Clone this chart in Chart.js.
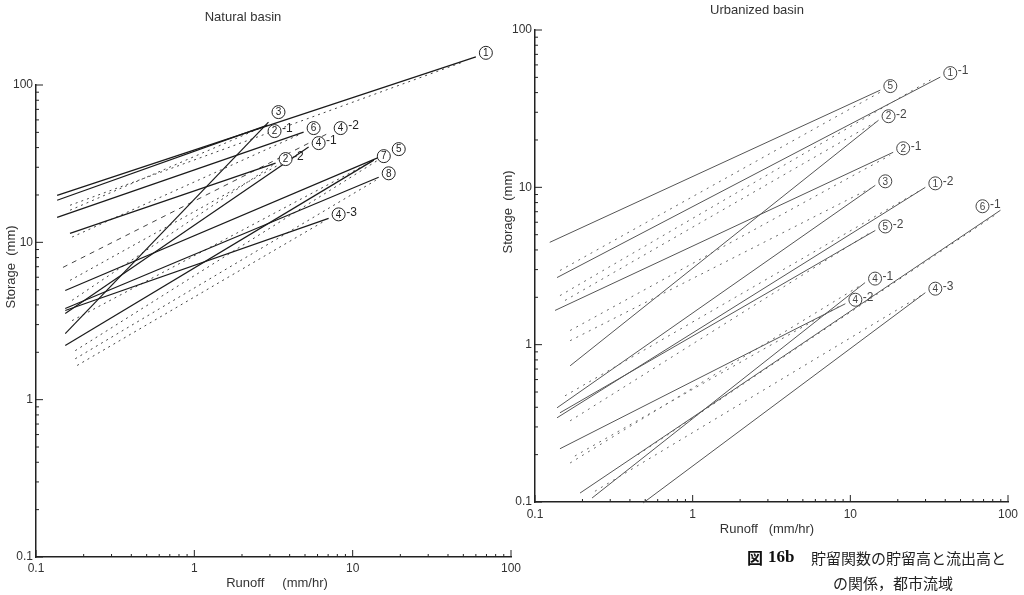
<!DOCTYPE html>
<html>
<head>
<meta charset="utf-8">
<script src="https://cdn.jsdelivr.net/npm/chart.js@4.4.0/dist/chart.umd.min.js"></script>
<style>
  body { margin: 0; background: #fff; width: 1024px; height: 595px; overflow: hidden; position: relative; }
  canvas { position: absolute; top: 0; }
  #natural { left: 0; }
  #urban { left: 495px; }
</style>
</head>
<body>
<canvas id="natural" width="530" height="595"></canvas>
<canvas id="urban" width="529" height="595"></canvas>
<script>
// axis ticks (both panels, log-log)
const tickValues = [0.1, 1, 10, 100];
const minorTicks = [0.2, 0.3, 0.4, 0.5, 0.6, 0.7, 0.8, 0.9, 2, 3, 4, 5, 6, 7, 8, 9, 20, 30, 40, 50, 60, 70, 80, 90];

// Natural basin - solid lines (runoff mm/hr, storage mm)
const natSolidTags = ['1', '2-1', '6', '2-2', '3', '4-1', '7', '5', '8', '4-3'];
const natSolidX0 = [0.136, 0.136, 0.136, 0.164, 0.153, 0.153, 0.153, 0.153, 0.153, 0.153];
const natSolidY0 = [19.9, 18.5, 14.4, 11.4, 2.63, 3.53, 2.21, 4.94, 3.80, 3.69];
const natSolidX1 = [60, 2.90, 4.90, 3.26, 2.94, 5.27, 13.6, 16.9, 14.6, 7.05];
const natSolidY1 = [151, 55.6, 50.2, 31.9, 58.1, 40.3, 33.3, 36.9, 25.9, 14.2];

// Natural basin - dotted lines (4-2 is the dashed one)
const natDotTags = ['', '', '', '4-2', '', '', '', '', '', ''];
const natDotX0 = [0.164, 0.164, 0.169, 0.148, 0.164, 0.169, 0.169, 0.177, 0.177, 0.182];
const natDotY0 = [17.2, 16.0, 10.8, 6.93, 5.73, 4.28, 3.18, 2.05, 1.82, 1.65];
const natDotX1 = [49.7, 2.69, 4.69, 7.26, 5.04, 3.12, 13.0, 16.2, 14.0, 6.75];
const natDotY1 = [140, 54.0, 48.8, 50.2, 38.6, 30.9, 32.4, 35.8, 24.8, 13.8];

// Urbanized basin - solid lines
const urbSolidTags = ['5', '1-1', '2-2', '2-1', '3', '1-2', '5-2', '4-2', '4-1', '6-1', '4-3'];
const urbSolidX0 = [0.124, 0.138, 0.167, 0.134, 0.138, 0.138, 0.144, 0.144, 0.230, 0.193, 0.485];
const urbSolidY0 = [4.47, 2.67, 0.734, 1.65, 0.397, 0.343, 0.369, 0.218, 0.106, 0.114, 0.0986];
const urbSolidX1 = [15.5, 37.2, 15.1, 18.7, 14.4, 29.9, 14.4, 9.30, 12.4, 89.6, 29.9];
const urbSolidY1 = [41.5, 50.2, 26.7, 16.7, 10.3, 10.0, 5.32, 1.82, 2.48, 7.15, 2.14];

// Urbanized basin - dotted lines
const urbDotX0 = [0.144, 0.144, 0.155, 0.167, 0.167, 0.155, 0.167, 0.179, 0.167, 0.45, 0.240];
const urbDotY0 = [2.96, 2.05, 1.91, 1.23, 1.06, 0.473, 0.328, 0.196, 0.177, 0.20, 0.117];
const urbDotX1 = [15.5, 32.2, 14.4, 17.9, 13.4, 27.8, 13.4, 8.64, 11.6, 83.3, 28.0];
const urbDotY1 = [40.3, 48.1, 25.9, 16.0, 9.86, 9.57, 5.17, 1.77, 2.38, 6.70, 2.05];

function buildSets(x0, y0, x1, y1, tags, color, width, dash) {
  return x0.map((_, i) => ({
    data: [{ x: x0[i], y: y0[i] }, { x: x1[i], y: y1[i] }],
    tag: tags ? tags[i] : '',
    showLine: true,
    clip: false,
    borderColor: color,
    borderWidth: width,
    borderDash: typeof dash === 'function' ? dash(i) : dash,
    pointRadius: 0,
  }));
}

// inside ticks, circled labels at line ends, free text
const panelDecor = {
  id: 'panelDecor',
  afterDatasetsDraw(chart, args, opts) {
    const ctx = chart.ctx;
    const xs = chart.scales.x, ys = chart.scales.y;
    ctx.save();
    ctx.strokeStyle = '#222';
    ctx.lineWidth = 1;
    ctx.beginPath();
    minorTicks.concat(tickValues).forEach(v => {
      const len = tickValues.includes(v) ? 7 : 3;
      const px = xs.getPixelForValue(v);
      ctx.moveTo(px, ys.bottom);
      ctx.lineTo(px, ys.bottom - len);
      const py = ys.getPixelForValue(v);
      ctx.moveTo(xs.left, py);
      ctx.lineTo(xs.left + len, py);
    });
    ctx.stroke();

    chart.data.datasets.forEach(ds => {
      if (!ds.tag) return;
      const end = ds.data[ds.data.length - 1];
      const sh = opts.shift[ds.tag] || [10, -4];
      const cx = xs.getPixelForValue(end.x) + sh[0];
      const cy = ys.getPixelForValue(end.y) + sh[1];
      const parts = ds.tag.split('-');
      ctx.strokeStyle = opts.labelColor;
      ctx.fillStyle = '#fff';
      ctx.beginPath();
      ctx.arc(cx, cy, 6.5, 0, Math.PI * 2);
      ctx.fill();
      ctx.stroke();
      ctx.fillStyle = opts.labelColor;
      ctx.font = '10px "Liberation Sans"';
      ctx.textAlign = 'center';
      ctx.textBaseline = 'middle';
      ctx.fillText(parts[0], cx, cy + 0.5);
      if (parts[1]) {
        ctx.textAlign = 'left';
        ctx.font = '12px "Liberation Sans"';
        ctx.fillText('-' + parts[1], cx + 7.5, cy - 2);
      }
    });

    opts.texts.forEach(t => {
      ctx.save();
      ctx.translate(t.x, t.y);
      if (t.rotate) ctx.rotate(t.rotate);
      ctx.font = t.font;
      ctx.fillStyle = t.color || '#333';
      ctx.textAlign = t.align || 'center';
      ctx.textBaseline = 'middle';
      ctx.fillText(t.text, 0, 0);
      ctx.restore();
    });
    ctx.restore();
  }
};

function logAxis(fitSize, isX, pad) {
  return {
    type: 'logarithmic',
    min: 0.1,
    max: 100,
    afterBuildTicks: s => { s.ticks = tickValues.map(v => ({ value: v })); },
    afterFit: s => { if (isX) s.height = fitSize; else s.width = fitSize; },
    ticks: {
      autoSkip: false,
      maxRotation: 0,
      padding: pad,
      color: '#333',
      font: { family: 'Liberation Sans', size: 12 },
      callback: v => (v === 0.1 ? '0.1' : String(v)),
    },
    grid: { display: false, drawTicks: false },
    border: { display: true, color: '#222', width: 1.5 },
  };
}

const labelFont = '13px "Liberation Sans"';

new Chart(document.getElementById('natural'), {
  type: 'scatter',
  data: {
    datasets: buildSets(natSolidX0, natSolidY0, natSolidX1, natSolidY1, natSolidTags, '#1a1a1a', 1.2, [])
      .concat(buildSets(natDotX0, natDotY0, natDotX1, natDotY1, natDotTags, '#444', 1, i => (i === 3 ? [5, 5] : [2, 4]))),
  },
  options: {
    responsive: false,
    animation: false,
    layout: { padding: { top: 85, right: 19, bottom: 0, left: 0 } },
    scales: { x: logAxis(38, true, 4), y: logAxis(36, false, 3) },
    plugins: {
      legend: { display: false },
      tooltip: { enabled: false },
      panelDecor: {
        labelColor: '#222',
        shift: { '3': [10, -10], '2-1': [7, 6] },
        texts: [
          { text: 'Natural basin', x: 243, y: 17, font: labelFont },
          { text: 'Runoff     (mm/hr)', x: 277, y: 583, font: labelFont },
          { text: 'Storage  (mm)', x: 11, y: 267, font: labelFont, rotate: -Math.PI / 2 },
        ],
      },
    },
  },
  plugins: [panelDecor],
});

new Chart(document.getElementById('urban'), {
  type: 'scatter',
  data: {
    datasets: buildSets(urbSolidX0, urbSolidY0, urbSolidX1, urbSolidY1, urbSolidTags, '#555', 1, [])
      .concat(buildSets(urbDotX0, urbDotY0, urbDotX1, urbDotY1, null, '#666', 1, [2, 5])),
  },
  options: {
    responsive: false,
    animation: false,
    layout: { padding: { top: 30, right: 16, bottom: 0, left: 0 } },
    scales: { x: logAxis(93, true, 5), y: logAxis(40, false, 3) },
    plugins: {
      legend: { display: false },
      tooltip: { enabled: false },
      panelDecor: {
        labelColor: '#444',
        shift: { '6-1': [-18, -4] },
        texts: [
          { text: 'Urbanized basin', x: 262, y: 10, font: labelFont },
          { text: 'Runoff   (mm/hr)', x: 272, y: 529, font: labelFont },
          { text: 'Storage  (mm)', x: 13, y: 212, font: labelFont, rotate: -Math.PI / 2 },
          { text: '図', x: 252, y: 558, font: 'bold 16px "Noto Sans CJK JP"', align: 'left', color: '#111' },
          { text: '16b', x: 273, y: 558, font: 'bold 17px "Liberation Serif"', align: 'left', color: '#111' },
          { text: '貯留関数の貯留高と流出高と', x: 316, y: 558, font: '15px "Noto Sans CJK JP"', align: 'left', color: '#222' },
          { text: 'の関係，都市流域', x: 338, y: 583, font: '15px "Noto Sans CJK JP"', align: 'left', color: '#222' },
        ],
      },
    },
  },
  plugins: [panelDecor],
});
</script>
</body>
</html>
